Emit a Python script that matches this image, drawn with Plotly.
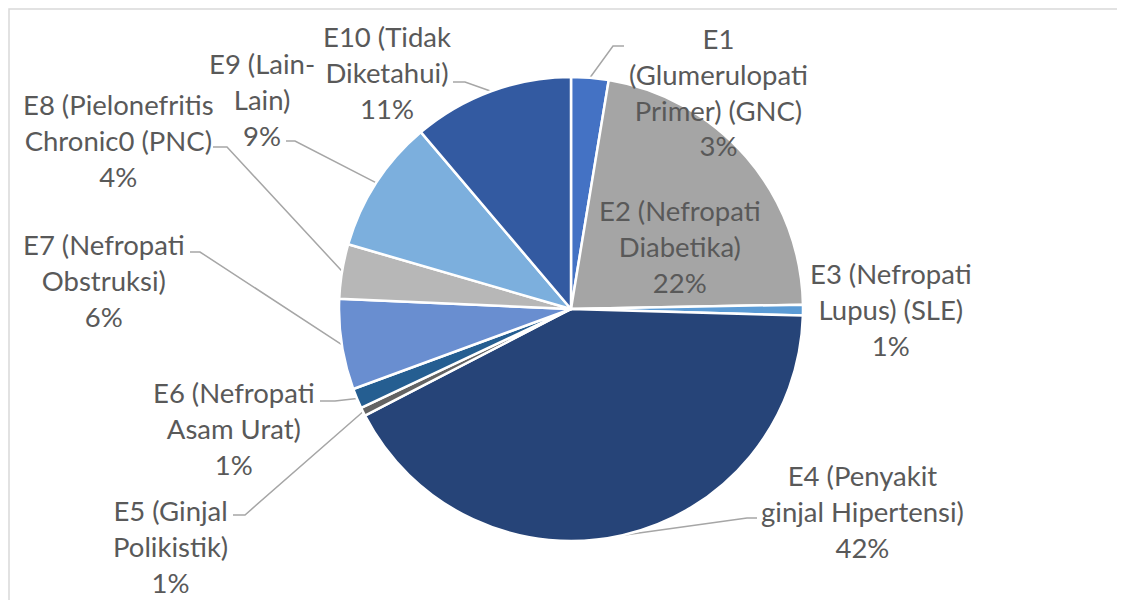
import math
import plotly.graph_objects as go

# --- DATA ---
categories = ["E1", "E2", "E3", "E4", "E5", "E6", "E7", "E8", "E9", "E10"]
label_lines = [
    "E1<br>(Glumerulopati<br>Primer) (GNC)",
    "E2 (Nefropati<br>Diabetika)",
    "E3 (Nefropati<br>Lupus) (SLE)",
    "E4 (Penyakit<br>ginjal Hipertensi)",
    "E5 (Ginjal<br>Polikistik)",
    "E6 (Nefropati<br>Asam Urat)",
    "E7 (Nefropati<br>Obstruksi)",
    "E8 (Pielonefritis<br>Chronic0 (PNC)",
    "E9 (Lain-<br>Lain)",
    "E10 (Tidak<br>Diketahui)",
]
values = [2.6, 22.1, 0.75, 41.95, 0.6, 1.4, 6.3, 3.8, 9.3, 11.2]
colors = ["#4472C4", "#A5A5A5", "#5B9BD5", "#264478", "#636363",
          "#255E91", "#698ED0", "#B7B7B7", "#7CAFDD", "#335AA1"]

# --- LAYOUT (screen pixels, 1125x600 window; page body has an 8px margin) ---
W, H = 1125, 600
OFF = 8
FW, FH = W - OFF, H - OFF
CX, CY, R = 571, 309, 232
label_pos = [(718, 92), (680, 246), (891, 309), (862, 511), (170, 546),
             (234, 428), (104, 280), (118, 140), (262, 99), (387, 72)]
# leader: (start at label, elbow) or None
leaders = [((624, 46), (613, 46)), None, None, ((757, 518), (747, 518)),
           ((233, 515), (245, 515)), ((320, 401), (335, 401)),
           ((190, 252), (200, 252)), ((213, 147), (227, 147)),
           ((286, 141), (295, 141)), ((453, 82), (465, 82))]

TEXT_COLOR = "#595959"
FONT = "Lato"

fig = go.Figure()

fig.add_trace(go.Pie(
    labels=categories, values=values, sort=False, direction="clockwise",
    rotation=0, textinfo="none", hoverinfo="label+percent",
    marker=dict(colors=colors, line=dict(color="white", width=2.5)),
    domain=dict(x=[(CX - R - OFF) / FW, (CX + R - OFF) / FW],
                y=[1 - (CY + R - OFF) / FH, 1 - (CY - R - OFF) / FH]),
    showlegend=False,
))

total = sum(values)
cum = 0
for i, v in enumerate(values):
    mid = 2 * math.pi * (cum + v / 2) / total
    cum += v
    pct = f"{round(v / total * 100)}%"
    lx, ly = label_pos[i]
    fig.add_annotation(
        x=lx, y=ly, xref="x", yref="y", text=f"{label_lines[i]}<br>{pct}",
        showarrow=False, align="center", xanchor="center", yanchor="middle",
        font=dict(family=FONT, size=27.5, color=TEXT_COLOR),
    )
    if leaders[i]:
        (sx, sy), (ex, ey) = leaders[i]
        px = CX + R * math.sin(mid)
        py = CY - R * math.cos(mid)
        fig.add_trace(go.Scatter(
            x=[sx, ex, px], y=[sy, ey, py], mode="lines",
            line=dict(color="#A6A6A6", width=1.5), hoverinfo="skip", showlegend=False,
        ))

# chart frame (cropped on right and bottom)
fig.add_shape(type="rect", xref="x", yref="y", x0=9, y0=9, x1=W + 20, y1=H + 20,
              line=dict(color="#D9D9D9", width=1.5), layer="below")

fig.update_layout(
    width=FW, height=FH, margin=dict(l=0, r=0, t=0, b=0),
    paper_bgcolor="white", plot_bgcolor="white",
    xaxis=dict(range=[OFF, W], visible=False, fixedrange=True),
    yaxis=dict(range=[H, OFF], visible=False, fixedrange=True),
)

fig.write_html("out.html")
